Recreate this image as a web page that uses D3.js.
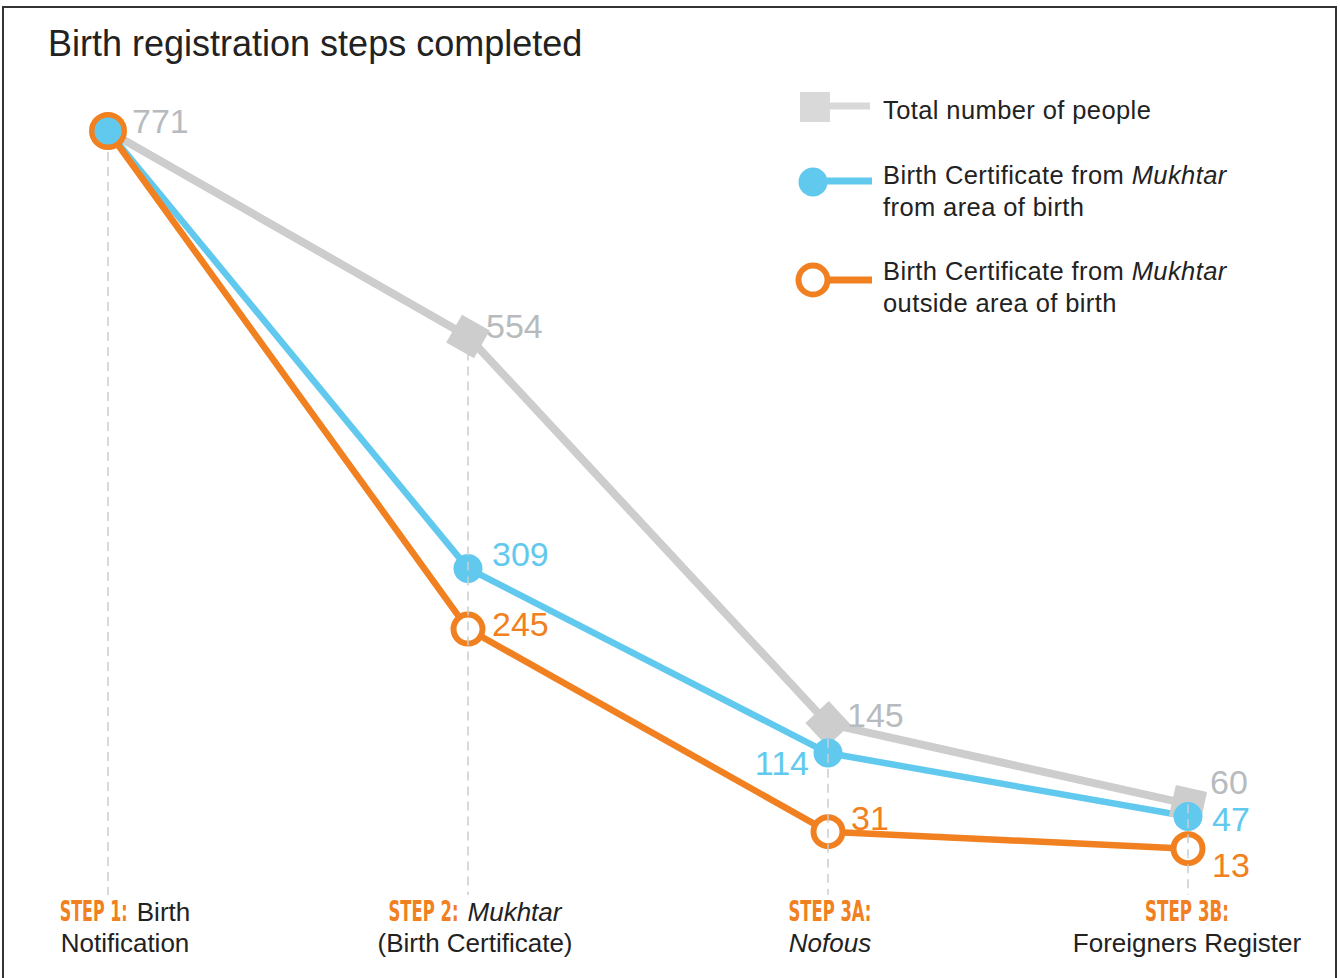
<!DOCTYPE html>
<html>
<head>
<meta charset="utf-8">
<script src="https://cdn.jsdelivr.net/npm/d3@7"></script>
<style>
  html, body { margin: 0; padding: 0; background: #fff; }
  svg { display: block; }
</style>
</head>
<body>
<div id="graph"></div>
<script>
// Data ///////////////////////////////////////////////////////////////////////
const stepCodes = ["STEP 1:", "STEP 2:", "STEP 3A:", "STEP 3B:"];
const stepLine1 = ["Birth", "Mukhtar", "", ""];
const stepLine2 = ["Notification", "(Birth Certificate)", "Nofous", "Foreigners Register"];
const stepItalic1 = [false, true, false, false];
const stepItalic2 = [false, false, true, false];

const totalPeople = [771, 554, 145, 60];
const fromAreaOfBirth = [771, 309, 114, 47];
const outsideAreaOfBirth = [771, 245, 31, 13];

const legendLabels = [
  ["Total number of people"],
  ["Birth Certificate from ", "from area of birth"],
  ["Birth Certificate from ", "outside area of birth"],
];

// Style / layout /////////////////////////////////////////////////////////////
const width = 1340;
const height = 978;
const gray = "#cdcdcd";
const grayText = "#b7bbbe";
const blue = "#62c9ee";
const orange = "#f18021";
const ink = "#222222";
const font = "'Liberation Sans', Arial, Helvetica, sans-serif";
const boldFont = "'DejaVu Sans', 'Liberation Sans', sans-serif";

// label offsets from each marker: [dx, dy, anchor]
const labelOffsets = {
  total: [[24, -10, "start"], [18, -10, "start"], [19, -9, "start"], [22, -22, "start"]],
  from: [null, [24, -14, "start"], [-19, 10, "end"], [24, 3, "start"]],
  outside: [null, [24, -5, "start"], [23, -14, "start"], [24, 16, "start"]],
};
const stepLabelDx = [17, 7, 2, -1];
// squeezed widths of the bold "STEP n:" codes (condensed look)
const stepCodeWidths = [68, 70, 83, 84];

const svg = d3.select("#graph").append("svg")
  .attr("width", width)
  .attr("height", height)
  .style("font-family", font);

// frame
svg.append("rect")
  .attr("x", 3).attr("y", 7)
  .attr("width", 1333).attr("height", 1000)
  .attr("fill", "none")
  .attr("stroke", "#333")
  .attr("stroke-width", 2);

svg.append("text")
  .attr("x", 48).attr("y", 56)
  .attr("fill", ink)
  .style("font-size", "36px")
  .text("Birth registration steps completed");

const x = d3.scalePoint().domain(d3.range(stepCodes.length)).range([108, 1188]);
const y = d3.scaleLinear().domain([0, 771]).range([861, 131]);

const line = d3.line().x((d, i) => x(i)).y(d => y(d));

const series = [
  { key: "total", values: totalPeople, color: gray, width: 8 },
  { key: "from", values: fromAreaOfBirth, color: blue, width: 6.5 },
  { key: "outside", values: outsideAreaOfBirth, color: orange, width: 6.5 },
];

// lines
series.forEach(s => {
  svg.append("path")
    .datum(s.values)
    .attr("d", line)
    .attr("fill", "none")
    .attr("stroke", s.color)
    .attr("stroke-width", s.width)
    .attr("stroke-linejoin", "round");
});

// gray square markers, turned along the incoming segment
svg.selectAll(".sq")
  .data(totalPeople.map((v, i) => ({ v, i })).filter(d => d.i > 0))
  .enter().append("rect")
  .attr("class", "sq")
  .attr("x", -16).attr("y", -16)
  .attr("width", 32).attr("height", 32)
  .attr("fill", gray)
  .attr("transform", d => {
    const a = Math.atan2(y(d.v) - y(totalPeople[d.i - 1]), x(d.i) - x(d.i - 1)) * 180 / Math.PI;
    return `translate(${x(d.i)},${y(d.v)}) rotate(${a})`;
  });

// orange rings
svg.selectAll(".ring")
  .data(outsideAreaOfBirth)
  .enter().append("circle")
  .attr("cx", (d, i) => x(i))
  .attr("cy", d => y(d))
  .attr("r", (d, i) => i === 0 ? 16 : 14.5)
  .attr("fill", "#fff")
  .attr("stroke", orange)
  .attr("stroke-width", 6);

// blue dots
svg.selectAll(".dot")
  .data(fromAreaOfBirth)
  .enter().append("circle")
  .attr("cx", (d, i) => x(i))
  .attr("cy", d => y(d))
  .attr("r", (d, i) => i === 0 ? 13.5 : 14.5)
  .attr("fill", blue);

// dashed step guides, drawn over the marks
svg.selectAll(".guide")
  .data(totalPeople)
  .enter().append("line")
  .attr("x1", (d, i) => x(i))
  .attr("x2", (d, i) => x(i))
  .attr("y1", (d, i) => y(d) + (i === 0 ? 21 : 0))
  .attr("y2", 895)
  .attr("stroke", "#c9cdd0")
  .attr("stroke-opacity", 0.75)
  .attr("stroke-width", 2)
  .attr("stroke-dasharray", "9,6");

// value labels
const labelColors = { total: grayText, from: blue, outside: orange };
series.forEach(s => {
  s.values.forEach((v, i) => {
    const off = labelOffsets[s.key][i];
    if (!off) return;
    svg.append("text")
      .attr("x", x(i) + off[0])
      .attr("y", y(v) + off[1])
      .attr("dy", "0.35em")
      .attr("text-anchor", off[2])
      .attr("fill", labelColors[s.key])
      .style("font-size", "34px")
      .text(v);
  });
});

// step labels
stepCodes.forEach((code, i) => {
  const cx = x(i) + stepLabelDx[i];
  const codeW = stepCodeWidths[i];
  // bold code squeezed horizontally to look condensed
  const codeG = svg.append("g");
  const codeText = codeG.append("text")
    .attr("x", 0).attr("y", 0)
    .attr("fill", orange)
    .style("font-family", boldFont)
    .style("font-weight", "bold")
    .style("font-size", "29px")
    .text(code);
  const sx = codeW / codeText.node().getComputedTextLength();

  let restW = 0;
  let restText = null;
  if (stepLine1[i]) {
    restText = svg.append("text")
      .attr("y", 921)
      .attr("fill", ink)
      .style("font-size", "26px")
      .style("font-style", stepItalic1[i] ? "italic" : "normal")
      .text(stepLine1[i]);
    restW = restText.node().getComputedTextLength();
  }
  const gap = restW ? 9 : 0;
  const start = cx - (codeW + gap + restW) / 2;
  codeG.attr("transform", `translate(${start},921) scale(${sx},1)`);
  if (restText) restText.attr("x", start + codeW + gap);

  svg.append("text")
    .attr("x", cx).attr("y", 952)
    .attr("text-anchor", "middle")
    .attr("fill", ink)
    .style("font-size", "26px")
    .style("font-style", stepItalic2[i] ? "italic" : "normal")
    .text(stepLine2[i]);
});

// legend
const legend = svg.append("g");
const legendRows = [106, 181, 280];
// gray
legend.append("line")
  .attr("x1", 815).attr("x2", 870)
  .attr("y1", legendRows[0]).attr("y2", legendRows[0])
  .attr("stroke", "#d9d9d9").attr("stroke-width", 7);
legend.append("rect")
  .attr("x", 800).attr("y", legendRows[0] - 14)
  .attr("width", 30).attr("height", 30)
  .attr("fill", "#d9d9d9");
// blue
legend.append("line")
  .attr("x1", 813).attr("x2", 872)
  .attr("y1", legendRows[1]).attr("y2", legendRows[1])
  .attr("stroke", blue).attr("stroke-width", 7);
legend.append("circle")
  .attr("cx", 813).attr("cy", legendRows[1] + 1).attr("r", 14.5)
  .attr("fill", blue);
// orange
legend.append("line")
  .attr("x1", 828).attr("x2", 872)
  .attr("y1", legendRows[2]).attr("y2", legendRows[2])
  .attr("stroke", orange).attr("stroke-width", 7);
legend.append("circle")
  .attr("cx", 813).attr("cy", legendRows[2]).attr("r", 14.5)
  .attr("fill", "#fff")
  .attr("stroke", orange).attr("stroke-width", 6);

const legendText = [[119], [184, 216], [280, 312]];
legendLabels.forEach((lines, k) => {
  lines.forEach((txt, j) => {
    const t = legend.append("text")
      .attr("x", 883).attr("y", legendText[k][j])
      .attr("fill", ink)
      .style("font-size", "25.5px")
      .style("letter-spacing", "0.4px")
      .text(txt);
    if (k > 0 && j === 0) {
      t.append("tspan").style("font-style", "italic").text("Mukhtar");
    }
  });
});
</script>
</body>
</html>
